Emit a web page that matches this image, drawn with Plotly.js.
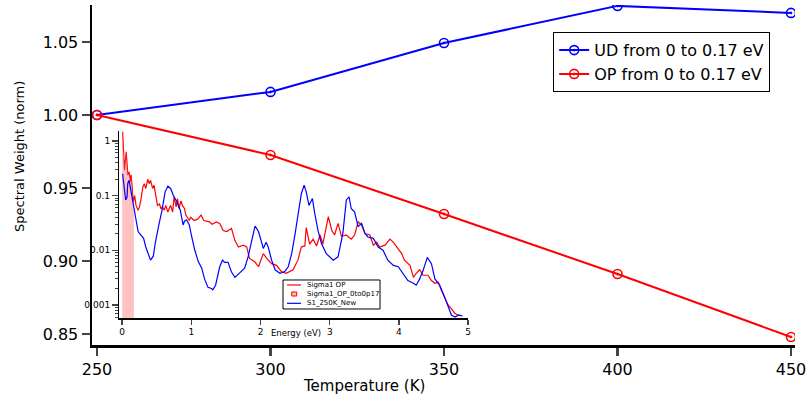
<!DOCTYPE html>
<html>
<head>
<meta charset="utf-8">
<script src="https://cdn.plot.ly/plotly-3.0.1.min.js"></script>
<style>html,body{margin:0;padding:0;background:#fff;}#chart{width:807px;height:400px;}</style>
</head>
<body>
<div id="chart"></div>
<script>
// Main chart data
const temperatures = [250, 300, 350, 400, 450];
const udWeight = [1.000, 1.0158, 1.0493, 1.0747, 1.0699];
const opWeight = [1.000, 0.9726, 0.9322, 0.8911, 0.8480];
const mainXTicks = [250, 300, 350, 400, 450];
const mainYTicks = [0.85, 0.90, 0.95, 1.00, 1.05];

// Inset data: Sigma1 OP (red)
const opEnergy = [0.006,0.02,0.034,0.058,0.082,0.1,0.12,0.13,0.16,0.18,0.2,0.23,0.25,0.27,0.3,0.32,0.34,0.37,0.39,0.41,0.44,0.46,0.49,0.51,0.54,0.56,0.58,0.61,0.63,0.66,0.68,0.7,0.73,0.75,0.78,0.8,0.82,0.85,0.87,0.9,0.92,0.94,0.97,0.99,1.04,1.09,1.14,1.18,1.26,1.3,1.36,1.41,1.46,1.51,1.58,1.63,1.68,1.75,1.8,1.84,1.92,1.97,2.04,2.09,2.16,2.23,2.3,2.37,2.47,2.54,2.59,2.64,2.66,2.71,2.76,2.81,2.86,2.9,2.98,3.03,3.07,3.12,3.17,3.24,3.31,3.36,3.41,3.46,3.51,3.58,3.63,3.68,3.72,3.8,3.87,3.92,3.99,4.04,4.08,4.16,4.21,4.25,4.3,4.35,4.42,4.47,4.52,4.57,4.61,4.66,4.71,4.76,4.81,4.86,4.9];
const opSigma = [1.46,0.63,0.29,0.63,0.236,0.27,0.18,0.24,0.077,0.1,0.066,0.054,0.062,0.083,0.145,0.165,0.134,0.2,0.165,0.19,0.135,0.155,0.09,0.066,0.07,0.057,0.062,0.054,0.066,0.05,0.058,0.066,0.05,0.095,0.062,0.088,0.058,0.08,0.066,0.058,0.044,0.04,0.035,0.04,0.035,0.037,0.044,0.035,0.033,0.03,0.033,0.031,0.023,0.022,0.025,0.015,0.0115,0.0124,0.0115,0.0071,0.0061,0.005,0.0087,0.0071,0.0057,0.0053,0.0041,0.0038,0.0044,0.0066,0.0115,0.012,0.026,0.013,0.016,0.012,0.019,0.013,0.041,0.023,0.019,0.031,0.018,0.019,0.016,0.019,0.033,0.029,0.02,0.019,0.0124,0.014,0.0115,0.0124,0.016,0.014,0.0108,0.0087,0.0066,0.0053,0.0032,0.0038,0.0044,0.0035,0.0035,0.0028,0.0025,0.0026,0.0019,0.0014,0.001,0.00085,0.0007,0.00065,0.00065];

// Inset data: Sigma1 OP integrated region 0 to 0.17 eV
const fillEnergy = [0.0,0.006,0.02,0.034,0.058,0.082,0.1,0.12,0.13,0.16,0.17];
const fillSigma = [1.46,1.46,0.63,0.29,0.63,0.236,0.27,0.18,0.24,0.077,0.09];
const fillBase = 1e-5;

// Inset data: S1_250K_New (blue)
const udEnergy = [0.006,0.03,0.05,0.07,0.08,0.1,0.13,0.16,0.19,0.23,0.27,0.31,0.34,0.38,0.41,0.45,0.48,0.53,0.58,0.62,0.66,0.7,0.74,0.79,0.84,0.88,0.9,0.93,0.97,1.0,1.05,1.1,1.15,1.19,1.24,1.29,1.31,1.35,1.41,1.45,1.48,1.53,1.58,1.63,1.7,1.77,1.82,1.87,1.92,1.97,2.01,2.04,2.08,2.11,2.16,2.21,2.28,2.35,2.4,2.45,2.5,2.54,2.59,2.63,2.66,2.7,2.75,2.78,2.83,2.88,2.95,3.05,3.12,3.19,3.24,3.28,3.31,3.36,3.41,3.46,3.51,3.55,3.63,3.7,3.77,3.84,3.92,3.99,4.06,4.13,4.21,4.25,4.3,4.35,4.41,4.47,4.52,4.59,4.66,4.71,4.76,4.81,4.86,4.92];
const udSigma = [0.25,0.117,0.083,0.093,0.165,0.19,0.117,0.066,0.038,0.022,0.019,0.0165,0.0116,0.0087,0.0066,0.0078,0.014,0.029,0.057,0.117,0.148,0.135,0.1,0.077,0.054,0.029,0.034,0.036,0.029,0.019,0.01,0.0062,0.0047,0.003,0.0021,0.002,0.0019,0.0023,0.005,0.0066,0.006,0.006,0.004,0.0032,0.0038,0.0047,0.0076,0.0152,0.0276,0.022,0.0152,0.0108,0.014,0.0115,0.0066,0.0044,0.0038,0.0041,0.005,0.0087,0.0204,0.047,0.109,0.155,0.117,0.066,0.088,0.05,0.023,0.0133,0.0087,0.0066,0.0076,0.0204,0.083,0.095,0.058,0.05,0.027,0.031,0.0204,0.0175,0.0165,0.0115,0.01,0.0066,0.0053,0.005,0.0038,0.0028,0.0025,0.0023,0.003,0.0043,0.0074,0.0057,0.003,0.0023,0.0014,0.00093,0.00065,0.0006,0.00065,0.00063];
const insetXTicks = [0, 1, 2, 3, 4, 5];
const insetYTicks = [0.001, 0.01, 0.1, 1];
const insetYTickText = ['0.001', '0.01', '0.1', '1'];
const insetLegendNames = ['Sigma1 OP', 'Sigma1_OP_0to0p17', 'S1_250K_New'];

const FONT = 'DejaVu Sans, Verdana, sans-serif';
const RED = '#ff0000', BLUE = '#0000ff', PINK = 'rgba(255,120,120,0.45)';

const traces = [
  {x: temperatures, y: udWeight, name: 'UD from 0 to 0.17 eV', mode: 'lines+markers',
   line: {color: BLUE, width: 2}, marker: {symbol: 'circle-open-dot', size: 9, color: BLUE, line: {width: 1.6}},
   xaxis: 'x', yaxis: 'y'},
  {x: temperatures, y: opWeight, name: 'OP from 0 to 0.17 eV', mode: 'lines+markers',
   line: {color: RED, width: 2}, marker: {symbol: 'circle-open-dot', size: 9, color: RED, line: {width: 1.6}},
   xaxis: 'x', yaxis: 'y'},
  {x: opEnergy, y: opSigma, name: insetLegendNames[0], mode: 'lines', line: {color: RED, width: 1.2},
   xaxis: 'x2', yaxis: 'y2', showlegend: false},
  {x: [fillEnergy[0]].concat(fillEnergy, [fillEnergy[fillEnergy.length-1]]),
   y: [fillBase].concat(fillSigma, [fillBase]),
   name: insetLegendNames[1], mode: 'lines', fill: 'toself', fillcolor: PINK,
   line: {color: RED, width: 0}, xaxis: 'x2', yaxis: 'y2', showlegend: false},
  {x: udEnergy, y: udSigma, name: insetLegendNames[2], mode: 'lines', line: {color: BLUE, width: 1.2},
   xaxis: 'x2', yaxis: 'y2', showlegend: false}
];

// Inset legend (drawn as a compact box in paper coordinates)
const lgX0 = 0.2717, lgX1 = 0.4097, lgY0 = 0.1059, lgY1 = 0.1912;
const lgRows = [0.1765, 0.150, 0.1226];
const lgSymX0 = 0.2774, lgSymX1 = 0.2973, lgTextX = 0.3030;
const shapes = [
  {type: 'rect', xref: 'paper', yref: 'paper', x0: lgX0, x1: lgX1, y0: lgY0, y1: lgY1, line: {color: '#000', width: 1}, fillcolor: '#fff', layer: 'above'},
  {type: 'line', xref: 'paper', yref: 'paper', x0: lgSymX0, x1: lgSymX1, y0: lgRows[0], y1: lgRows[0], line: {color: RED, width: 1.2}, layer: 'above'},
  {type: 'rect', xref: 'paper', yref: 'paper', x0: 0.2841, x1: 0.2912, y0: lgRows[1] - 0.006, y1: lgRows[1] + 0.006, line: {color: RED, width: 1}, fillcolor: 'rgb(255,190,190)', layer: 'above'},
  {type: 'line', xref: 'paper', yref: 'paper', x0: lgSymX0, x1: lgSymX1, y0: lgRows[2], y1: lgRows[2], line: {color: BLUE, width: 1.2}, layer: 'above'}
];
const annotations = [
  {text: 'Energy (eV)', x: 0.2905, y: 0.035, xref: 'paper', yref: 'paper', showarrow: false, font: {size: 8.5, family: FONT}, xanchor: 'center', yanchor: 'middle'},
  {text: 'Temperature (K)', x: 0.387, y: -0.12, xref: 'paper', yref: 'paper', showarrow: false, font: {size: 15, family: FONT}, xanchor: 'center', yanchor: 'middle'},
  {text: 'Spectral Weight (norm)', x: -0.1024, y: 0.553, xref: 'paper', yref: 'paper', showarrow: false, textangle: -90, font: {size: 13, family: FONT}, xanchor: 'center', yanchor: 'middle'}
];
insetLegendNames.forEach((n, i) => annotations.push({
  text: n, x: lgTextX, y: lgRows[i], xref: 'paper', yref: 'paper', showarrow: false,
  font: {size: 7, family: FONT}, xanchor: 'left', yanchor: 'middle'
}));

const layout = {
  width: 807, height: 400,
  margin: {l: 92, r: 12, t: 5, b: 55},
  paper_bgcolor: '#ffffff', plot_bgcolor: 'rgba(0,0,0,0)',
  font: {family: FONT, color: '#000', size: 15},
  showlegend: true,
  xaxis: {domain: [0, 1], range: [248.56, 451.15], tickvals: mainXTicks, ticks: 'outside', ticklen: 8, tickwidth: 2.5,
    showline: true, linewidth: 2.5, linecolor: '#000', showgrid: false, zeroline: false,
    tickfont: {size: 16}, anchor: 'y'},
  yaxis: {domain: [0, 1], range: [0.8425, 1.0753], tickvals: mainYTicks, tickformat: '.2f', ticks: 'outside', ticklen: 8, tickwidth: 2.5,
    showline: true, linewidth: 2.5, linecolor: '#000', showgrid: false, zeroline: false,
    tickfont: {size: 16}, anchor: 'x'},
  xaxis2: {domain: [0.039, 0.535], range: [-0.04, 5.0], tickvals: insetXTicks, ticks: 'outside', ticklen: 5, tickwidth: 1.5,
    showline: true, linewidth: 1.5, linecolor: '#000', showgrid: false, zeroline: false, tickfont: {size: 9}, anchor: 'y2'},
  yaxis2: {domain: [0.079, 0.629], type: 'log', range: [-3.24, 0.177], tickvals: insetYTicks, ticktext: insetYTickText,
    ticks: 'outside', ticklen: 6, tickwidth: 1.5, showline: true, linewidth: 1.5, linecolor: '#000', showgrid: false, zeroline: false,
    tickfont: {size: 9}, anchor: 'x2',
    minor: {ticks: 'outside', ticklen: 3, tickwidth: 1, dtick: 'D1', showgrid: false}},
  legend: {x: 0.656, y: 0.92, xanchor: 'left', yanchor: 'top', bgcolor: '#fff', bordercolor: '#000', borderwidth: 1,
    font: {size: 16, family: FONT}, itemwidth: 30, tracegroupgap: 0},
  shapes: shapes,
  annotations: annotations
};

Plotly.newPlot('chart', traces, layout, {displayModeBar: false, staticPlot: true});
</script>
</body>
</html>
